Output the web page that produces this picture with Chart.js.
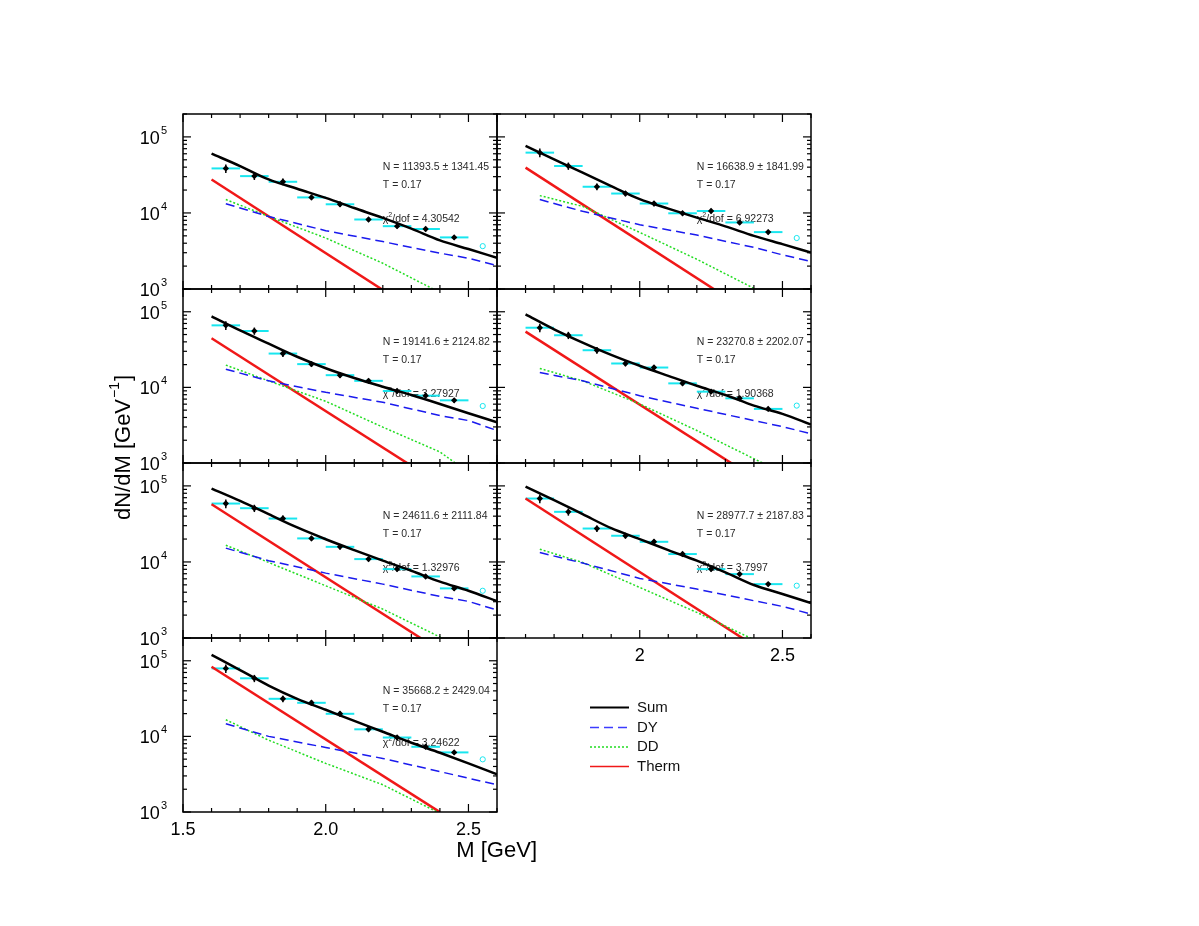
<!DOCTYPE html>
<html>
<head>
<meta charset="utf-8">
<script src="https://cdn.jsdelivr.net/npm/chart.js@4.4.1/dist/chart.umd.min.js"></script>
<style>
  body { margin: 0; background: #fff; }
  #wrap { position: relative; width: 1199px; height: 926px; overflow: hidden; }
  #wrap canvas { position: absolute; left: 0; top: 0; }
</style>
</head>
<body>
<div id="wrap"></div>
<script>
// masses (GeV)
const binMass = [1.65, 1.75, 1.85, 1.95, 2.05, 2.15, 2.25, 2.35, 2.45];
const tailMass = 2.55;
const sumMass = [1.6, 1.7, 1.8, 1.9, 2.0, 2.1, 2.2, 2.3, 2.4, 2.5, 2.6];
const dyMass = [1.65, 1.8, 2.0, 2.2, 2.4, 2.5, 2.6];
const ddMass = [1.65, 1.8, 2.0, 2.2, 2.4, 2.5];
const thermMass = [1.6, 2.4];

// one row per panel
const pointVals = [
  [38500, 30500, 25700, 16000, 13000, 8200, 6700, 6150, 4770],
  [62100, 41400, 22100, 18000, 13300, 9900, 10600, 7500, 5600],
  [66100, 55700, 28000, 20300, 14500, 12200, 8950, 7770, 6740],
  [61500, 48900, 31000, 20700, 18300, 11300, 8780, 7170, 5190],
  [58600, 50900, 37200, 20400, 15800, 10900, 8050, 6450, 4490],
  [68200, 45600, 27500, 22100, 18400, 12700, 8050, 6920, 5110],
  [79200, 58600, 31400, 27800, 19900, 12400, 9660, 7280, 6140]
];
const pointErr = [0.13, 0.11, 0.1, 0.08, 0.08, 0.07, 0.07, 0.07, 0.07];
const tailVals = [3660, 4680, 5670, 5740, 4180, 4870, 4970];

const sumVals = [
  [60200, 41400, 27600, 20800, 15800, 11600, 8600, 6210, 4350, 3350, 2570],
  [76000, 50700, 33800, 22600, 15200, 11400, 8670, 6670, 5000, 3890, 3020],
  [86900, 56700, 37900, 25400, 17900, 13300, 10200, 7930, 6040, 4550, 3460],
  [92300, 58600, 39100, 26900, 19300, 14200, 10500, 7930, 5740, 4460, 3230],
  [92300, 63500, 42500, 28400, 19900, 14300, 10400, 7660, 5500, 4180, 3060],
  [98000, 64900, 42500, 27800, 20000, 14300, 10400, 7300, 4970, 3790, 2880],
  [120000, 75300, 47000, 31400, 22500, 16000, 11500, 8230, 6070, 4400, 3160]
];
const dyVals = [
  [13200, 9000, 5850, 4200, 2960, 2540, 2030],
  [15000, 10500, 7000, 5120, 3520, 2810, 2300],
  [17400, 12200, 8600, 6350, 4240, 3640, 2690],
  [15700, 12200, 7760, 5300, 3640, 3030, 2430],
  [15200, 10400, 7130, 5110, 3520, 3030, 2330],
  [13300, 9660, 6070, 4400, 3090, 2600, 2070],
  [14700, 10000, 7130, 5110, 3420, 2800, 2290]
];
const ddVals = [
  [15000, 9000, 4680, 2180, 900, 600],
  [16900, 12200, 5550, 2460, 1020, 660],
  [19700, 12200, 6550, 2980, 1400, 750],
  [17800, 12200, 6040, 2690, 1140, 750],
  [16600, 9840, 4860, 2400, 1030, 700],
  [14700, 9840, 4620, 2170, 950, 650],
  [16600, 8900, 4400, 2290, 960, 650]
];
const thermVals = [
  [27500, 319], [39400, 456], [44600, 528], [54600, 641],
  [57400, 687], [68200, 796], [83400, 995]
];

const nLabels = [
  'N = 11393.5 \u00b1 1341.45', 'N = 16638.9 \u00b1 1841.99', 'N = 19141.6 \u00b1 2124.82',
  'N = 23270.8 \u00b1 2202.07', 'N = 24611.6 \u00b1 2111.84', 'N = 28977.7 \u00b1 2187.83',
  'N = 35668.2 \u00b1 2429.04'
];
const tempLabel = 'T = 0.17';
const chiLabels = ['4.30542', '6.92273', '3.27927', '1.90368', '1.32976', '3.7997', '3.24622'];

const xTickVals = [1.5, 1.6, 1.7, 1.8, 1.9, 2.0, 2.1, 2.2, 2.3, 2.4, 2.5, 2.6];
const xMajor = [1.5, 2.0, 2.5];
const xLabelsLeft = ['1.5', '2.0', '2.5'];
const xLabelsRight = ['', '2', '2.5'];
const yDecades = [1000, 10000, 100000];
const yExponents = ['3', '4', '5'];
const yMinorMult = [2, 3, 4, 5, 6, 7, 8, 9];
const legendLabels = ['Sum', 'DY', 'DD', 'Therm'];

const FONT = '"Liberation Sans", Arial, Helvetica, sans-serif';
const CYAN = '#18e6ef';
const W = 1199, H = 926;
const colX = [[183, 497], [497, 811]];
const rowY = [[114, 289], [289, 463], [463, 638], [638, 812]];

function toXY(xs, ys) {
  return xs.map((x, i) => ({ x: x, y: ys[i] }));
}

function line(ctx, x1, y1, x2, y2) {
  ctx.beginPath();
  ctx.moveTo(x1, y1);
  ctx.lineTo(x2, y2);
  ctx.stroke();
}

const panelPlugin = {
  id: 'panel',
  beforeDatasetsDraw(chart, args, opts) {
    const ctx = chart.ctx, xs = chart.scales.x, ys = chart.scales.y, p = opts.idx;
    const top = chart.chartArea.top;
    ctx.save();
    // fit results
    ctx.fillStyle = '#2a2a2a';
    ctx.font = '10.5px ' + FONT;
    const tx = xs.getPixelForValue(2.2);
    ctx.fillText(nLabels[p], tx, top + 56);
    ctx.fillText(tempLabel, tx, top + 73.5);
    ctx.fillText('\u03c7', tx, top + 108);
    const wChi = ctx.measureText('\u03c7').width;
    ctx.font = '7px ' + FONT;
    ctx.fillText('2', tx + wChi, top + 103);
    const w2 = ctx.measureText('2').width;
    ctx.font = '10.5px ' + FONT;
    ctx.fillText('/dof = ' + chiLabels[p], tx + wChi + w2, top + 108);

    // bin widths and error bars
    ctx.lineWidth = 2;
    ctx.strokeStyle = CYAN;
    binMass.forEach((m, i) => {
      const y = ys.getPixelForValue(pointVals[p][i]);
      line(ctx, xs.getPixelForValue(m - 0.05), y, xs.getPixelForValue(m + 0.05), y);
    });
    ctx.lineWidth = 1.5;
    ctx.strokeStyle = '#000';
    binMass.forEach((m, i) => {
      const v = pointVals[p][i], e = pointErr[i];
      const x = xs.getPixelForValue(m);
      line(ctx, x, ys.getPixelForValue(v * (1 - e)), x, ys.getPixelForValue(v * (1 + e)));
    });
    ctx.restore();
  },
  afterDraw(chart, args, opts) {
    const ctx = chart.ctx, xs = chart.scales.x, ys = chart.scales.y, p = opts.idx;
    const a = chart.chartArea;
    ctx.save();
    ctx.strokeStyle = '#000';
    ctx.lineWidth = 1.5;
    ctx.strokeRect(a.left, a.top, a.right - a.left, a.bottom - a.top);

    ctx.lineWidth = 1.2;
    // y ticks, inward on both sides
    yDecades.forEach(d => {
      const y = ys.getPixelForValue(d);
      line(ctx, a.left, y, a.left + 8, y);
      line(ctx, a.right, y, a.right - 8, y);
      yMinorMult.forEach(m => {
        if (m * d > ys.max) return;
        const ym = ys.getPixelForValue(m * d);
        line(ctx, a.left, ym, a.left + 4, ym);
        line(ctx, a.right, ym, a.right - 4, ym);
      });
    });
    // x ticks, inward top and bottom
    xTickVals.forEach(v => {
      const x = xs.getPixelForValue(v);
      const len = xMajor.some(m => Math.abs(m - v) < 1e-6) ? 8 : 4;
      line(ctx, x, a.bottom, x, a.bottom - len);
      line(ctx, x, a.top, x, a.top + len);
    });

    ctx.fillStyle = '#000';
    ctx.textBaseline = 'alphabetic';
    // y labels on the left column
    if (p % 2 === 0) {
      yDecades.forEach((d, i) => {
        const y = ys.getPixelForValue(d);
        ctx.font = '11px ' + FONT;
        const ws = ctx.measureText(yExponents[i]).width;
        ctx.font = '18px ' + FONT;
        const wb = ctx.measureText('10').width;
        const xr = a.left - 16;
        ctx.textAlign = 'left';
        ctx.fillText('10', xr - ws - wb - 1, y + 7);
        ctx.font = '11px ' + FONT;
        ctx.fillText(yExponents[i], xr - ws, y - 3);
      });
    }
    // x labels
    const xl = p === 6 ? xLabelsLeft : (p === 5 ? xLabelsRight : null);
    if (xl) {
      ctx.font = '18px ' + FONT;
      ctx.textAlign = 'center';
      xMajor.forEach((v, i) => {
        if (xl[i]) ctx.fillText(xl[i], xs.getPixelForValue(v), a.bottom + 22.5);
      });
    }

    if (p === 6) {
      // axis titles
      ctx.font = '22px ' + FONT;
      ctx.textAlign = 'right';
      ctx.fillText('M [GeV]', 537, 857);
      ctx.save();
      ctx.translate(130, 520);
      ctx.rotate(-Math.PI / 2);
      ctx.textAlign = 'left';
      const base = 'dN/dM [GeV';
      ctx.fillText(base, 0, 0);
      let wx = ctx.measureText(base).width;
      ctx.font = '14px ' + FONT;
      ctx.fillText('\u22121', wx + 1, -11);
      wx += ctx.measureText('\u22121').width + 2;
      ctx.font = '22px ' + FONT;
      ctx.fillText(']', wx, 0);
      ctx.restore();

      // legend
      const styles = chart.data.datasets;
      const ly = [707.5, 727.5, 747, 766.5];
      const legendColors = { Sum: '#000', DY: '#3c3cff', DD: '#22dd22', Therm: '#f01818' };
      ctx.font = '15px ' + FONT;
      ctx.textAlign = 'left';
      ctx.textBaseline = 'middle';
      legendLabels.forEach((lab, i) => {
        const ds = styles.find(s => s.label === lab);
        ctx.strokeStyle = legendColors[lab];
        ctx.lineWidth = lab === 'Sum' ? 2 : 1.5;
        ctx.setLineDash(ds.borderDash || []);
        line(ctx, 590, ly[i], 629, ly[i]);
        ctx.setLineDash([]);
        ctx.fillStyle = '#111';
        ctx.fillText(lab, 637, ly[i]);
      });
    }
    ctx.restore();
  }
};

const wrap = document.getElementById('wrap');
for (let p = 0; p < 7; p++) {
  const cv = document.createElement('canvas');
  cv.width = W;
  cv.height = H;
  cv.style.width = W + 'px';
  cv.style.height = H + 'px';
  wrap.appendChild(cv);
  const cx = colX[p % 2], ry = rowY[Math.floor(p / 2)];

  new Chart(cv, {
    type: 'line',
    data: {
      datasets: [
        { label: 'data', data: toXY(binMass, pointVals[p]), showLine: false,
          pointStyle: 'rectRot', pointRadius: 3.2, pointBackgroundColor: '#000',
          pointBorderColor: '#000', pointBorderWidth: 0, order: 0 },
        { label: 'tail', data: [{ x: tailMass, y: tailVals[p] }], showLine: false,
          pointStyle: 'circle', pointRadius: 2.6, pointBackgroundColor: 'rgba(0,0,0,0)',
          pointBorderColor: CYAN, pointBorderWidth: 1, order: 1 },
        { label: 'Sum', data: toXY(sumMass, sumVals[p]), borderColor: '#000',
          borderWidth: 2.5, pointRadius: 0, cubicInterpolationMode: 'monotone', order: 2, clip: 0 },
        { label: 'DY', data: toXY(dyMass, dyVals[p]), borderColor: '#1a1aee',
          borderWidth: 1.5, borderDash: [9, 5], pointRadius: 0, order: 3, clip: 0 },
        { label: 'DD', data: toXY(ddMass, ddVals[p]), borderColor: '#22dd22',
          borderWidth: 1.5, borderDash: [2, 2], pointRadius: 0, order: 4, clip: 0 },
        { label: 'Therm', data: toXY(thermMass, thermVals[p]), borderColor: '#f01818',
          borderWidth: 2.5, pointRadius: 0, order: 5, clip: 0 }
      ]
    },
    options: {
      responsive: false,
      animation: false,
      devicePixelRatio: 1,
      events: [],
      layout: { padding: { left: cx[0], right: W - cx[1], top: ry[0], bottom: H - ry[1] } },
      plugins: { legend: { display: false }, tooltip: { enabled: false }, panel: { idx: p } },
      scales: {
        x: { type: 'linear', min: 1.5, max: 2.6, display: false },
        y: { type: 'logarithmic', min: 1000, max: 200000, display: false }
      }
    },
    plugins: [panelPlugin]
  });
}
</script>
</body>
</html>
